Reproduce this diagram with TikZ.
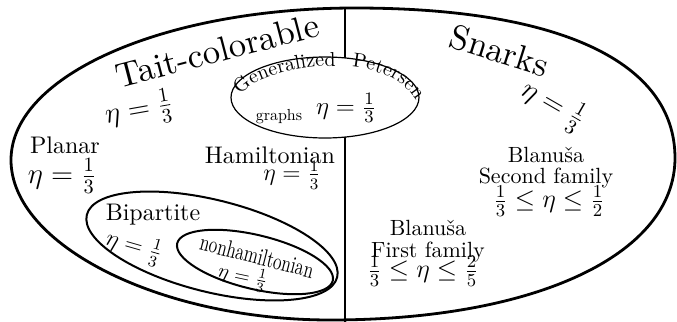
\IfFileExists{fix-cm.sty}{\RequirePackage{fix-cm}}{}
\documentclass[tikz,border=0pt]{standalone}
\usepackage{fontspec}
\setmainfont{lmroman10-regular.otf}[ItalicFont=lmroman10-italic.otf, BoldFont=lmroman10-bold.otf]
\usetikzlibrary{decorations.text}
\begin{document}
\begin{tikzpicture}[x=0.5pt,y=-0.5pt,
  every node/.style={inner sep=0pt, outer sep=0pt},
  outerline/.style={line width=1.4pt},
  sepline/.style={line width=0.8pt},
  thinring/.style={line width=0.6pt, fill=white},
  ring/.style={line width=1pt},
  title/.style={font=\fontsize{17.3}{20}\selectfont},
  word/.style={font=\fontsize{12}{14}\selectfont},
  blword/.style={font=\fontsize{11}{13}\selectfont},
  bigeq/.style={font=\fontsize{14.5}{17}\selectfont},
  mideq/.style={font=\fontsize{12.5}{15}\selectfont},
  smalleq/.style={font=\fontsize{10}{12}\selectfont}]
\useasboundingbox (0,0) rectangle (677,322);
% separator
\coordinate (septop) at (345,8);
\coordinate (sepbot) at (345,322);
\draw[sepline] (septop) -- (sepbot);
% outer region
\draw[outerline] (355,8) .. controls (560,8) and (675,62) .. (675,158)
  .. controls (675,255) and (535,320) .. (330,320)
  .. controls (160,320) and (11,245) .. (11,160)
  .. controls (11,75) and (165,8) .. (355,8) -- cycle;
% generalized Petersen
\draw[thinring] (325,97.5) ellipse [x radius=94, y radius=40.5];
\path[decorate, decoration={text along path, text={|\fontsize{10}{12}\selectfont|Generalized}, text align=left}]
  (240,95) .. controls (252,78) and (310,60) .. (358,68);
\path[decorate, decoration={text along path, text={|\fontsize{10}{12}\selectfont|Petersen}, text align=left}]
  (352,67) .. controls (385,70) and (412,85) .. (420,110);
\node[font=\fontsize{8}{10}\selectfont, anchor=base] (graphs) at (279,120) {graphs};
\node[mideq] (gpeta) at (346,108) {$\eta=\frac{1}{3}$};
% bipartite and nonhamiltonian
\draw[ring, rotate around={-14:(212,246)}] (212,246) ellipse [x radius=129, y radius=46];
\draw[ring, rotate around={-13.5:(255,262)}] (255,262) ellipse [x radius=80, y radius=27];
% Tait side texts
\node[title, rotate=14.6, anchor=base] (tait) at (220,62) {Tait-colorable};
\node[bigeq, rotate=10] (taiteta) at (139,110) {$\eta=\frac{1}{3}$};
\node[word, anchor=base] (planar) at (65,153) {Planar};
\node[bigeq] (planareta) at (62,176) {$\eta=\frac{1}{3}$};
\node[word, anchor=base] (ham) at (270,163) {Hamiltonian};
\node[word] (hameta) at (292,175) {$\eta=\frac{1}{3}$};
\node[word, anchor=base] (bip) at (153,220) {Bipartite};
\node[word, rotate=-16] (bipeta) at (134,247) {$\eta=\frac{1}{3}$};
\node[font=\fontsize{12}{14}\selectfont, rotate=-14.3, anchor=base] (nonham) at (255,264) {\scalebox{0.71}[1]{nonhamiltonian}};
\node[smalleq, rotate=-12] (nonhameta) at (243,277) {$\eta=\frac{1}{3}$};
% Snarks side texts
\node[title, rotate=-17.5, anchor=base] (snarks) at (496,62) {Snarks};
\node[bigeq, rotate=-30] (snarkseta) at (553,105) {$\eta=\frac{1}{3}$};
\node[blword, anchor=base] (b2a) at (546,162) {Blanuša};
\node[blword, anchor=base] (b2b) at (546,183) {Second family};
\node[font=\fontsize{13}{15}\selectfont] (b2c) at (549,201) {$\frac{1}{3}\le\eta\le\frac{1}{2}$};
\node[blword, anchor=base] (b1a) at (428,235) {Blanuša};
\node[blword, anchor=base] (b1b) at (428,257) {First family};
\node[font=\fontsize{13}{15}\selectfont] (b1c) at (423,271) {$\frac{1}{3}\le\eta\le\frac{2}{5}$};
\end{tikzpicture}
\end{document}
